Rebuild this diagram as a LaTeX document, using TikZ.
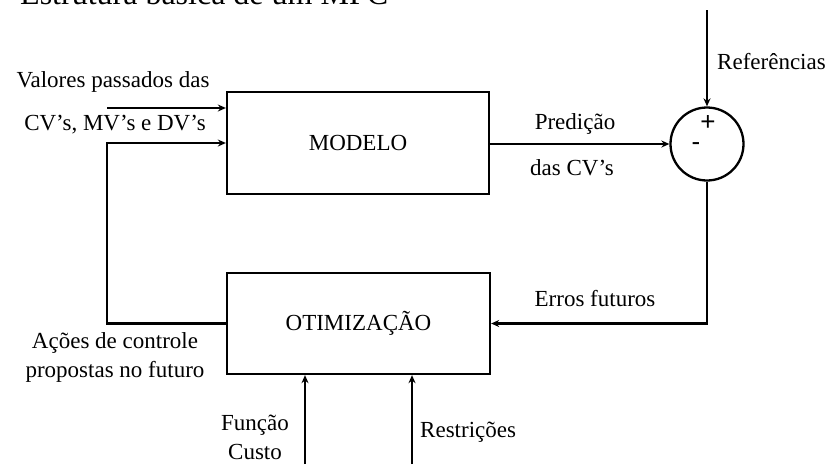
\documentclass[tikz,border=0pt]{standalone}
\usepackage{fontspec}
\setmainfont{Liberation Serif}
\setsansfont{Liberation Sans}
\usetikzlibrary{arrows.meta}
\tikzset{
  blk/.style={draw, line width=2.3pt, inner sep=0pt},
  lbl/.style={inner sep=0pt, font=\fontsize{23}{27}\selectfont},
  con/.style={line width=2.3pt, -{Stealth[length=8pt,width=7pt]}},
  sgn/.style={inner sep=0pt, font=\sffamily\fontsize{26}{28}\selectfont},
}
\begin{document}
\begin{tikzpicture}[x=1pt,y=-1pt]
\useasboundingbox (0,0) rectangle (830,464);
\clip (0,0) rectangle (830,464);
\node[inner sep=0pt, anchor=base west, font=\fontsize{32}{36}\selectfont] (title) at (20,4) {Estrutura básica de um MPC};
% blocks
\node[blk, minimum width=262pt, minimum height=102pt, lbl] (modelo) at (358,143) {MODELO};
\node[blk, minimum width=263pt, minimum height=101pt, lbl] (otim) at (358.5,323.5) {OTIMIZAÇÃO};
\node[draw, circle, line width=2.3pt, minimum size=73pt, inner sep=0pt] (sum) at (707,144) {};
\node[sgn] (plus) at (708,123) {+};
\node[sgn] (minus) at (696,147) {-};
% coordinates
\coordinate (in1) at (107,108);
\coordinate (fb) at (107,143);
\coordinate (reftop) at (707,10);
\coordinate (cf) at (305,464);
\coordinate (rs) at (412,464);
% connectors
\draw[con] (in1) -- (modelo.west |- in1);
\draw[con] (otim.west) -| (fb) -- (modelo.west);
\draw[con] (modelo.east |- sum.west) -- (sum.west);
\draw[con] (reftop) -- (sum.north);
\draw[con] (sum.south) |- (otim.east);
\draw[con] (cf) -- (cf |- otim.south);
\draw[con] (rs) -- (rs |- otim.south);
% labels
\node[lbl] (l1) at (113,82) {Valores passados das};
\node[lbl] (l2) at (115,125) {CV’s, MV’s e DV’s};
\node[lbl] (l3) at (575,124) {Predição};
\node[lbl] (l4) at (572,168) {das CV’s};
\node[lbl, anchor=west] (l5) at (717,62) {Referências};
\node[lbl] (l6) at (595,299) {Erros futuros};
\node[lbl] (l7) at (115,343) {Ações de controle};
\node[lbl] (l8) at (115,372) {propostas no futuro};
\node[lbl] (l9) at (255,425) {Função};
\node[lbl] (l10) at (255,452) {Custo};
\node[lbl, anchor=west] (l11) at (420,432) {Restrições};
\end{tikzpicture}
\end{document}
